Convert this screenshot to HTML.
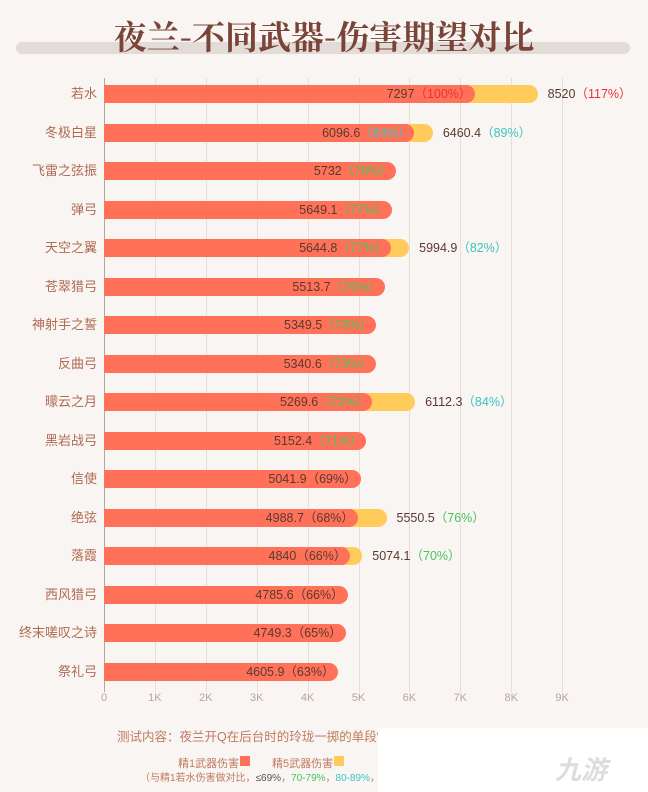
<!DOCTYPE html>
<html><head><meta charset="utf-8"><style>
body{margin:0;width:648px;height:792px;background:#f8f5f3;position:relative;overflow:hidden;font-family:"Liberation Sans","Noto Sans CJK SC",sans-serif}
.a{position:absolute}
.t{left:0;width:648px;top:12px;text-align:center;font-family:"Noto Serif CJK SC",serif;font-weight:bold;font-size:33px;color:#7a4438;z-index:2;letter-spacing:0px}
.u{left:16px;top:42px;width:490px;height:12px;border-radius:6px;background:#e3dbd7}
.g{top:78px;width:1px;height:614px;background:#eadcd7}
.x{top:692px;width:40px;margin-left:-20px;text-align:center;font-size:11px;color:#b9a49c}
.l{left:0;width:97px;text-align:right;font-size:13px;color:#b06a52;line-height:18px}
.r{left:104px;height:18px;background:#ff7159;border-radius:0 9px 9px 0}
.y{left:104px;height:18px;background:#ffcb5a;border-radius:0 9px 9px 0}
.v{font-size:12.5px;color:#5a3a30;line-height:18px;white-space:nowrap}
.c1{color:#e8303a}.c2{color:#3ec4be}.c3{color:#4cc35a}.c4{color:#5a3a30}
</style></head><body>
<div class="a u" style="width:614px"></div>
<div class="a t">夜兰-不同武器-伤害期望对比</div>
<div id="c"></div>
<div class="a" style="left:117px;top:726px;font-size:12.5px;color:#c07a60;white-space:nowrap">测试内容：夜兰开Q在后台时的玲珑一掷的单段“期望伤害”</div>
<div class="a" style="left:178px;top:755px;font-size:11px;color:#c07a60">精1武器伤害</div>
<div class="a" style="left:240px;top:756px;width:10px;height:10px;background:#ff7159"></div>
<div class="a" style="left:272px;top:755px;font-size:11px;color:#c07a60">精5武器伤害</div>
<div class="a" style="left:334px;top:756px;width:10px;height:10px;background:#ffcb5a"></div>
<div class="a" style="left:140px;top:769px;font-size:10px;color:#c07a60;white-space:nowrap">（与精1若水伤害做对比，<span style="color:#555">≤69%</span>，<span class="c3">70-79%</span>，<span class="c2">80-89%</span>，<span class="c1">≥90%</span></div>
<div class="a" style="left:378px;top:728px;width:270px;height:64px;background:#fff"></div>
<div class="a" style="left:555px;top:750px;font-size:26px;color:#ddd;font-style:italic;font-weight:bold">九游</div>
<script>
var d=[["若水",7297,100,8520,117],["冬极白星",6096.6,84,6460.4,89],["飞雷之弦振",5732,79],["弹弓",5649.1,77],["天空之翼",5644.8,77,5994.9,82],["苍翠猎弓",5513.7,76],["神射手之誓",5349.5,73],["反曲弓",5340.6,73],["曚云之月",5269.6,72,6112.3,84],["黑岩战弓",5152.4,71],["信使",5041.9,69],["绝弦",4988.7,68,5550.5,76],["落霞",4840,66,5074.1,70],["西风猎弓",4785.6,66],["终末嗟叹之诗",4749.3,65],["祭礼弓",4605.9,63]];
var s=50.9,h='';
function cc(p){return p>=90?'c1':p>=80?'c2':p>=70?'c3':'c4'}
for(var k=0;k<=9;k++){var x=104+k*s;h+='<div class="a g" style="left:'+Math.round(x)+'px'+(k==0?';background:#b9a49c':'')+'"></div><div class="a x" style="left:'+x+'px">'+(k?k+'K':'0')+'</div>';}
d.forEach(function(r,i){var cy=94+i*38.53,t=Math.round(cy-9);
h+='<div class="a l" style="top:'+t+'px">'+r[0]+'</div>';
var w1=r[1]/1000*s;
if(r[3]){var w2=r[3]/1000*s;h+='<div class="a y" style="top:'+t+'px;width:'+w2+'px"></div>';
h+='<div class="a v" style="top:'+t+'px;left:'+(104+w2+10)+'px">'+r[3]+'<span class="'+cc(r[4])+'">（'+r[4]+'%）</span></div>';}
h+='<div class="a r" style="top:'+t+'px;width:'+w1+'px"></div>';
h+='<div class="a v" style="top:'+t+'px;right:'+(648-(104+w1-4))+'px">'+r[1]+'<span class="'+cc(r[2])+'">（'+r[2]+'%）</span></div>';});
document.getElementById('c').innerHTML=h;
</script>
</body></html>
